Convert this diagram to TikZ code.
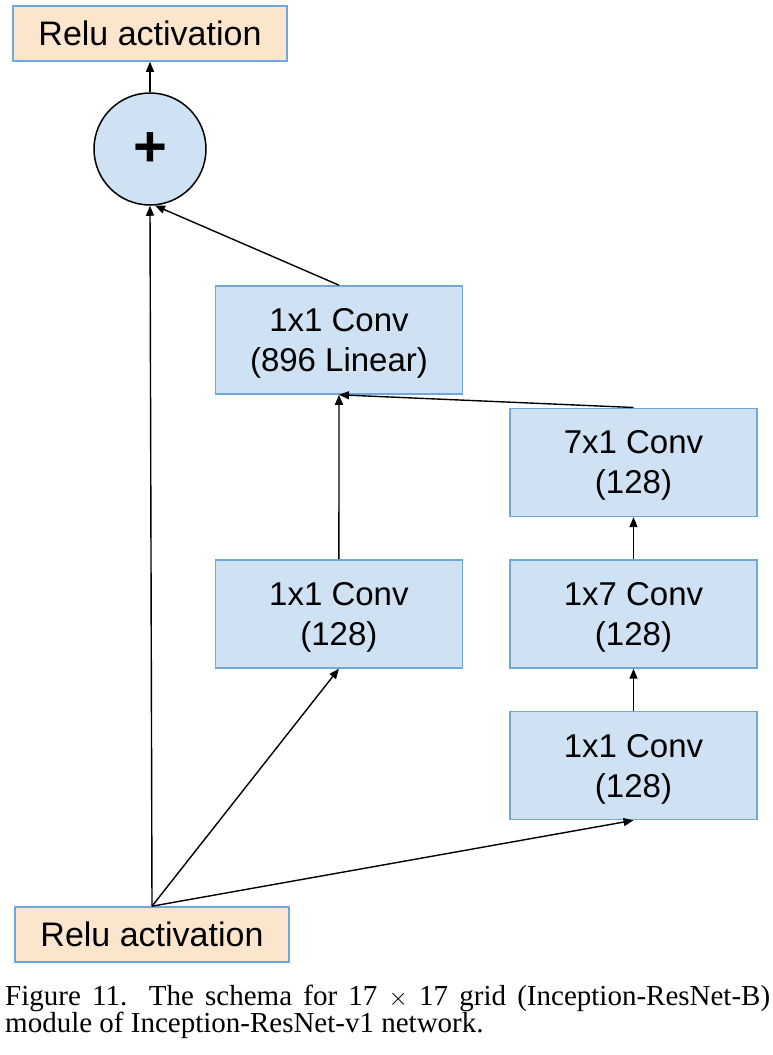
\documentclass[tikz,border=0pt]{standalone}
\usepackage{xcolor}
\usepackage{fontspec}
\setmainfont{Liberation Sans}
\newfontfamily\captionfont{Liberation Serif}
\usetikzlibrary{arrows.meta, positioning}

\definecolor{convfill}{HTML}{CFE2F3}
\definecolor{convedge}{HTML}{6FA8DC}
\definecolor{relufill}{HTML}{FCE5CD}

\begin{document}
\begin{tikzpicture}[
        x=1pt, y=1pt,
        conv/.style={rectangle, minimum width=247pt, minimum height=108pt, inner sep=0pt, text depth=0pt, align=center, draw=convedge, line width=1.6pt, fill=convfill, font=\fontsize{33}{40}\selectfont},
        relu/.style={rectangle, minimum width=274pt, minimum height=55pt, inner sep=0pt, draw=convedge, line width=1.6pt, fill=relufill, font=\fontsize{34}{40}\selectfont},
        adder/.style={circle, minimum size=112pt, inner sep=0pt, draw=black, line width=1.5pt, fill=convfill, font=\fontsize{58}{58}\selectfont\bfseries},
        arrow/.style={line width=1.4pt, -{Triangle[length=10pt, width=8pt]}}
    ]
    \useasboundingbox (0,0) rectangle (773,-1055);

    % --- NODES ---
    \node (relu_out) [relu] at (150,-33.5) {Relu activation};
    \node (add) [adder] at (150,-149) {+};
    \node (linear) [conv] at (339,-340) {1x1 Conv\\(896 Linear)};

    % right branch
    \node (conv1b) [conv] at (633.5,-765.5) {1x1 Conv\\(128)};
    \node (conv17) [conv, above=42pt of conv1b] {1x7 Conv\\(128)};
    \node (conv71) [conv, above=42pt of conv17] {7x1 Conv\\(128)};

    % middle branch
    \node (conv1a) [conv, left=46pt of conv17] {1x1 Conv\\(128)};

    \node (relu_in) [relu] at (152,-934.5) {Relu activation};

    % --- ARROWS ---
    \draw [arrow] (relu_in.north) -- (add.south);
    \draw [arrow] (relu_in.north) -- (conv1a.south);
    \draw [arrow] (relu_in.north) -- (conv1b.south);
    \draw [arrow] (conv1b) -- (conv17);
    \draw [arrow] (conv17) -- (conv71);
    \draw [arrow] (conv71.north) -- (linear.south);
    \draw [arrow] (conv1a) -- (linear.south);
    \draw [arrow] (linear.north) -- (add.-85);
    \draw [arrow] (add) -- (relu_out);

    % caption
    \node (caption) [anchor=base west, inner sep=0pt, align=left, font=\captionfont\fontsize{29}{27}\selectfont] at (5,-1032.7) {\makebox[765pt][s]{Figure 11. The schema for 17 $\times$ 17 grid (Inception-ResNet-B)}\\module of Inception-ResNet-v1 network.};

\end{tikzpicture}
\end{document}
